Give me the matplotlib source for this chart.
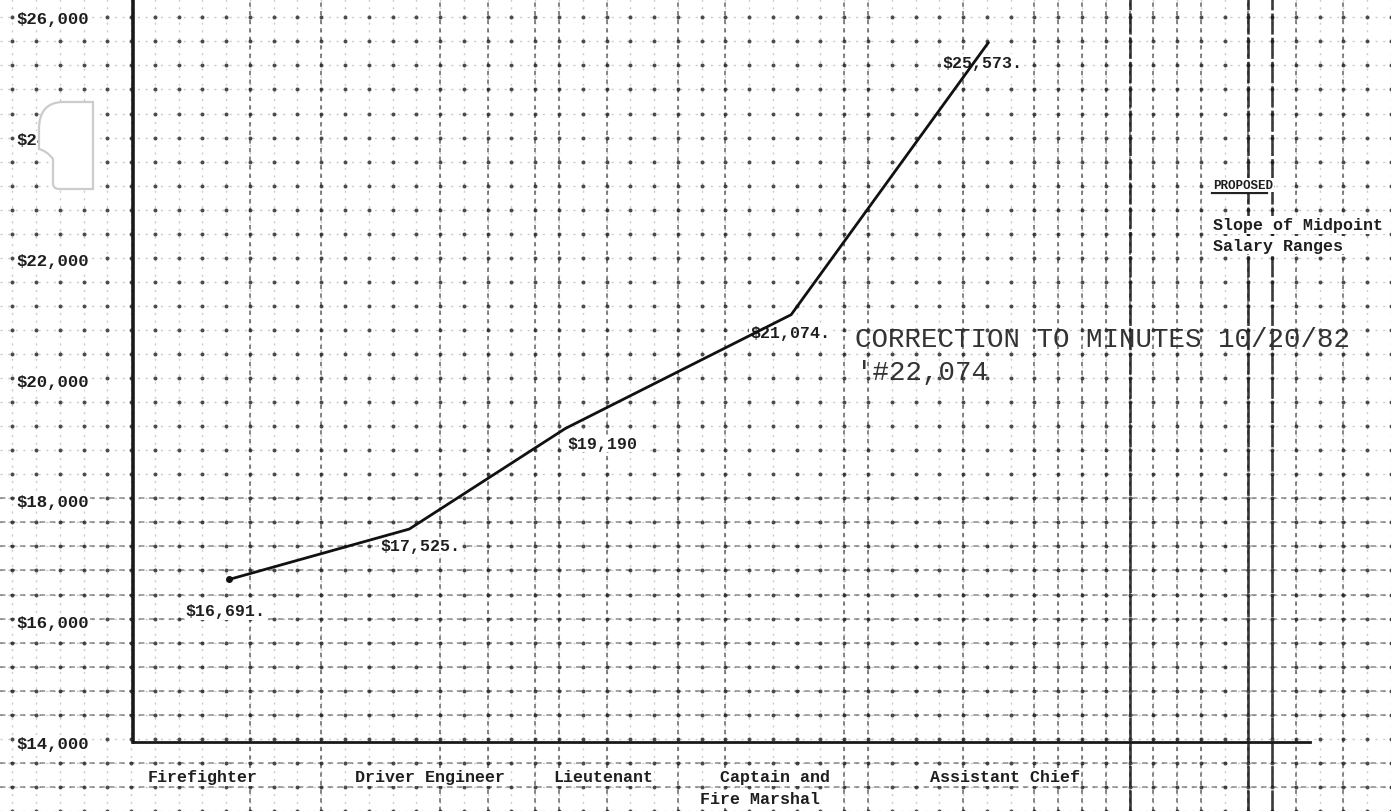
import numpy as np
import matplotlib.pyplot as plt
from matplotlib.patches import PathPatch
from matplotlib.path import Path
from matplotlib.transforms import Affine2D

# Data
positions = ["Firefighter", "Driver Engineer", "Lieutenant",
             "Captain and\nFire Marshal", "Assistant Chief"]
midpoint_salary = [16691, 17525, 19190, 21074, 25573]
value_labels = ["$16,691.", "$17,525.", "$19,190", "$21,074.", "$25,573."]
# point positions along the x axis, in graph-paper squares
point_x = [4.0, 11.5, 18.0, 27.4, 35.6]
y_ticks = [14000, 16000, 18000, 20000, 22000, 24000, 26000]
y_tick_labels = ["$14,000", "$16,000", "$18,000", "$20,000",
                 "$22,000", "$24,000", "$26,000"]

W, H = 1391, 812
fig = plt.figure(figsize=(W / 100, H / 100), dpi=100)
fig.patch.set_facecolor('white')

mono = ['Liberation Mono', 'DejaVu Sans Mono']
ink = '#1e1e1e'
wbox = dict(facecolor='white', edgecolor='none', pad=0.8)

# graph paper background (pixel coordinates)
bg = fig.add_axes([0, 0, 1, 1])
bg.set_xlim(0, W)
bg.set_ylim(H, 0)
cols = 12.2 + 23.8 * np.arange(59)
rows = 18.6 + 24.4 * np.arange(34)
bg.set_xticks(cols)
bg.set_yticks(rows)
bg.tick_params(length=0, labelbottom=False, labelleft=False)
for s in bg.spines.values():
    s.set_visible(False)
bg.grid(True, color='#555', linestyle=(0, (1.5, 4)), linewidth=1.0, alpha=0.3)
gx, gy = np.meshgrid(cols, rows)
bg.scatter(gx.ravel(), gy.ravel(), s=8, color='#2a2a2a', linewidths=0, alpha=0.85)

# darker scanned columns / rows of the graph paper (grid indices)
dashed_cols = [10, 13, 18, 20, 22, 23, 25, 28, 30, 35, 36, 40,
               43, 44, 45, 46, 47, 48, 49, 50, 52, 54, 56]
solid_cols = [47, 52, 53]
dashed_rows = [20, 21, 22, 23, 24, 25, 26, 27, 28, 29, 31, 32]
for k in dashed_cols:
    bg.axvline(cols[k], color='#222', lw=1.4, ls=(0, (2.2, 2.2)), alpha=0.55)
for k in solid_cols:
    bg.axvline(cols[k], color='#1a1a1a', lw=1.9, ls=(0, (8, 1.2)), alpha=0.85)
for k in dashed_rows:
    bg.axhline(rows[k], color='#222', lw=1.3, ls=(0, (3, 2.5)), alpha=0.45)

# main chart axes: left spine at x=133, bottom at y=743
left, right, bottom, top = 133 / W, 1310 / W, 1 - 743 / H, 1.0
ax = fig.add_axes([left, bottom, right - left, top - bottom])
ax.patch.set_alpha(0)
ax.set_xlim(0, 49)
ax.set_ylim(14000, 26300)

ax.plot(point_x, midpoint_salary, color='#111', lw=2.0, zorder=8)
ax.plot(point_x[0], midpoint_salary[0], 'o', color='#111', ms=4, zorder=8)

label_offsets = [(-1.8, -520), (-1.2, -270), (0.1, -250), (-1.7, -300), (-1.9, -330)]
for x, y, t, (dx, dy) in zip(point_x, midpoint_salary, value_labels, label_offsets):
    ax.text(x + dx, y + dy, t, family=mono, fontsize=12, fontweight='bold',
            color=ink, ha='left', va='center', zorder=6, bbox=wbox)

ax.set_yticks(y_ticks)
ax.set_yticklabels(y_tick_labels, family=mono, fontsize=12.5, fontweight='bold',
                   color=ink)
for lab in ax.get_yticklabels():
    lab.set_bbox(wbox)
ax.tick_params(axis='y', length=0, pad=32)
ax.set_xticks([])
for side in ['top', 'right']:
    ax.spines[side].set_visible(False)
ax.spines['left'].set_linewidth(2.6)
ax.spines['bottom'].set_linewidth(2.0)
ax.spines['left'].set_color('#1a1a1a')
ax.spines['bottom'].set_color('#1a1a1a')

# category labels under the axis (figure pixels)
cat_x = [148, 355, 553, 720, 930]
for name, xc in zip(positions, cat_x):
    lines = name.split('\n')
    fig.text(xc / W, 1 - 778 / H, lines[0], family=mono, fontsize=12,
             fontweight='bold', color=ink, ha='left', va='center', bbox=wbox)
    if len(lines) > 1:
        fig.text((xc - 20) / W, 1 - 800 / H, lines[1], family=mono, fontsize=12,
                 fontweight='bold', color=ink, ha='left', va='center', bbox=wbox)

# side notes
fig.text(1213 / W, 1 - 186 / H, "PROPOSED", family=mono, fontsize=9,
         fontweight='bold', color=ink, ha='left', va='center', bbox=wbox)
bg.plot([1213, 1268], [197, 197], color='#222', lw=1.6)
fig.text(1213 / W, 1 - 226 / H, "Slope of Midpoint", family=mono, fontsize=12,
         fontweight='bold', color=ink, ha='left', va='center', bbox=wbox)
fig.text(1213 / W, 1 - 246 / H, "Salary Ranges", family=mono, fontsize=12,
         fontweight='bold', color=ink, ha='left', va='center', bbox=wbox)

fig.text(855 / W, 1 - 340 / H, "CORRECTION TO MINUTES 10/20/82", family=mono,
         fontsize=19.8, color='#333', ha='left', va='center', zorder=5)
fig.text(856 / W, 1 - 373 / H, "'#22,074", family=mono,
         fontsize=19.8, color='#333', ha='left', va='center', zorder=5)

# punched hole in the paper (pixel coords, drawn on top of everything)
verts = [(93, 103), (62, 103), (39, 104), (39, 130), (39, 150), (47, 152),
         (53, 160), (53, 184), (53, 190), (59, 190), (93, 190), (93, 103)]
codes = [Path.MOVETO, Path.LINETO, Path.CURVE3, Path.CURVE3, Path.LINETO,
         Path.CURVE3, Path.CURVE3, Path.LINETO, Path.CURVE3, Path.CURVE3,
         Path.LINETO, Path.CLOSEPOLY]
px_to_fig = Affine2D().scale(1 / W, -1 / H).translate(0, 1) + fig.transFigure
hole = PathPatch(Path(verts, codes), facecolor='white', edgecolor='#cccccc',
                 lw=1.6, transform=px_to_fig, zorder=30)
fig.add_artist(hole)

fig.savefig('out.png', dpi=100)
